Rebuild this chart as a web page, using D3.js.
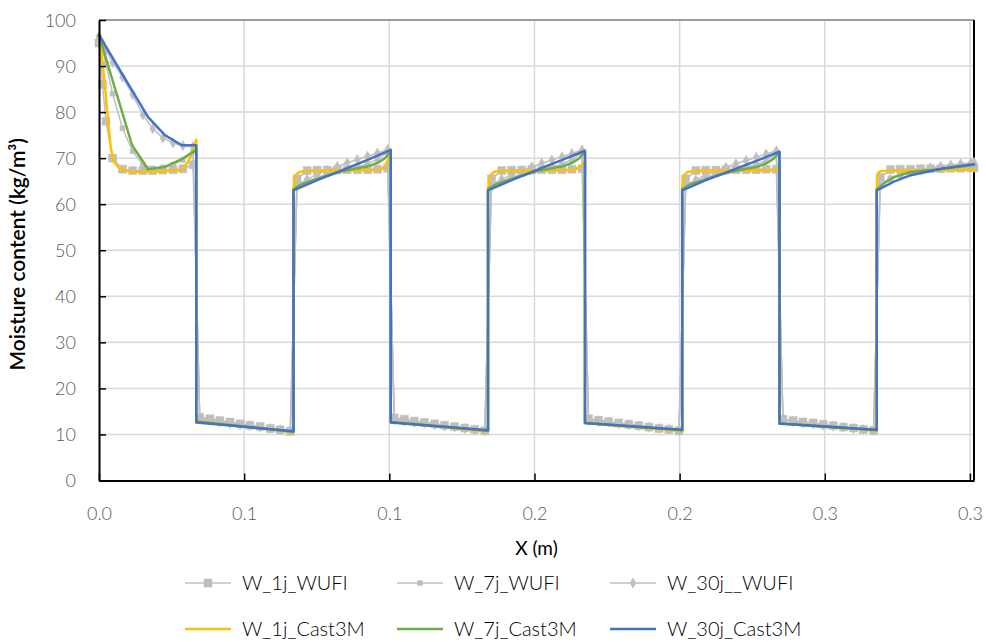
<!DOCTYPE html>
<html>
<head>
<meta charset="utf-8">
<script src="https://cdn.jsdelivr.net/npm/d3@7"></script>
<style>
  body { margin: 0; background: #fff; }
  svg { display: block; }
  text { font-family: Lato, "Open Sans", sans-serif; }
</style>
</head>
<body>
<svg id="chart" width="986" height="642"></svg>
<script>
// ---- axis ticks ----
const xTicks = [0, 0.05, 0.1, 0.15, 0.2, 0.25, 0.3];
const xTickLabels = ["0.0", "0.1", "0.1", "0.2", "0.2", "0.3", "0.3"];
const yTicks = [0, 10, 20, 30, 40, 50, 60, 70, 80, 90, 100];
const xMax = 0.3014;

// ---- WUFI results (shared mesh nodes, m) ----
const xWufi = [
  0, 0.0012, 0.0024, 0.0047, 0.0081, 0.0116, 0.0151, 0.0185, 0.0220, 0.0255, 0.0289, 0.0324,
  0.0347, 0.0382, 0.0416, 0.0451, 0.0486, 0.0520, 0.0555, 0.0590, 0.0624, 0.0659,
  0.0682, 0.0717, 0.0751, 0.0786, 0.0821, 0.0855, 0.0890, 0.0925, 0.0959, 0.0994,
  0.1017, 0.1052, 0.1086, 0.1121, 0.1156, 0.1190, 0.1225, 0.1260, 0.1294, 0.1329,
  0.1352, 0.1387, 0.1421, 0.1456, 0.1491, 0.1525, 0.1560, 0.1595, 0.1629, 0.1664,
  0.1686, 0.1721, 0.1755, 0.1790, 0.1825, 0.1859, 0.1894, 0.1929, 0.1963, 0.1998,
  0.2021, 0.2056, 0.2090, 0.2125, 0.2160, 0.2194, 0.2229, 0.2264, 0.2298, 0.2333,
  0.2356, 0.2391, 0.2425, 0.2460, 0.2495, 0.2529, 0.2564, 0.2599, 0.2633, 0.2668,
  0.2691, 0.2726, 0.2760, 0.2795, 0.2830, 0.2864, 0.2899, 0.2934, 0.2968, 0.3003, 0.3014
];
const w1jWufi = [
  95, 86, 78, 70, 67.6, 67.3, 67.3, 67.3, 67.4, 67.5, 67.7, 68.6,
  13.7, 13.4, 13.0, 12.7, 12.3, 12.0, 11.7, 11.3, 11.0, 10.7,
  65.5, 67.3, 67.4, 67.4, 67.5, 67.5, 67.5, 67.5, 67.6, 67.8,
  13.6, 13.3, 12.9, 12.6, 12.3, 12.0, 11.7, 11.4, 11.1, 10.8,
  65.5, 67.3, 67.4, 67.4, 67.5, 67.5, 67.5, 67.5, 67.6, 67.7,
  13.4, 13.1, 12.8, 12.5, 12.2, 11.9, 11.6, 11.3, 11.1, 10.8,
  65.5, 67.3, 67.4, 67.4, 67.5, 67.5, 67.5, 67.5, 67.6, 67.6,
  13.3, 13.0, 12.7, 12.5, 12.2, 11.9, 11.6, 11.4, 11.1, 10.9,
  65.8, 67.5, 67.6, 67.6, 67.7, 67.7, 67.7, 67.8, 67.8, 67.9, 67.9
];
const w7jWufi = [
  96, 93.5, 90.5, 84, 76.5, 71.5, 68.6, 67.8, 68.0, 68.6, 69.6, 71.4,
  13.5, 13.2, 12.9, 12.6, 12.3, 12.0, 11.7, 11.4, 11.1, 10.8,
  64.0, 65.0, 65.8, 66.5, 67.1, 67.6, 68.1, 68.8, 69.8, 71.3,
  13.4, 13.1, 12.8, 12.5, 12.2, 11.9, 11.6, 11.3, 11.0, 10.8,
  64.0, 65.0, 65.8, 66.5, 67.1, 67.6, 68.1, 68.7, 69.7, 71.2,
  13.3, 13.0, 12.7, 12.4, 12.1, 11.9, 11.6, 11.3, 11.1, 10.9,
  64.0, 65.0, 65.8, 66.5, 67.1, 67.5, 68.0, 68.6, 69.5, 71.0,
  13.2, 12.9, 12.7, 12.4, 12.1, 11.9, 11.6, 11.4, 11.1, 10.9,
  64.2, 65.6, 66.4, 66.9, 67.3, 67.6, 67.8, 68.0, 68.2, 68.4, 68.5
];
const w30jWufi = [
  96.5, 95, 93.5, 90.8, 87.6, 83.8, 79.4, 76.4, 74.4, 73.3, 72.7, 72.5,
  13.3, 13.0, 12.7, 12.4, 12.1, 11.9, 11.6, 11.3, 11.0, 10.8,
  64.2, 65.4, 66.5, 67.4, 68.2, 69.0, 69.7, 70.4, 71.1, 71.9,
  13.2, 12.9, 12.6, 12.4, 12.1, 11.8, 11.6, 11.3, 11.0, 10.8,
  64.2, 65.4, 66.4, 67.3, 68.1, 68.9, 69.6, 70.3, 71.0, 71.8,
  13.1, 12.8, 12.6, 12.3, 12.1, 11.8, 11.6, 11.3, 11.1, 10.9,
  64.1, 65.3, 66.3, 67.2, 68.0, 68.8, 69.5, 70.2, 70.9, 71.6,
  13.0, 12.8, 12.5, 12.3, 12.0, 11.8, 11.6, 11.3, 11.1, 10.9,
  64.0, 65.4, 66.3, 67.0, 67.5, 67.9, 68.2, 68.5, 68.8, 69.0, 69.1
];

// ---- Cast3M results ([x (m), w (kg/m3)]) ----
const w1jCast = [
  [0, 96.5], [0.001, 92], [0.002, 86], [0.003, 79], [0.004, 72.5], [0.005, 69.3], [0.007, 67.8],
  [0.0114, 67.0], [0.020, 67.1], [0.0285, 67.4], [0.0305, 69.0], [0.032, 71.0], [0.0335, 74.0],
  [0.0335, 12.9], [0.0670, 10.5],
  [0.0670, 63.5], [0.0675, 65.6], [0.0680, 66.5], [0.0690, 67.0], [0.0710, 67.2], [0.0850, 67.3],
  [0.0970, 67.5], [0.0985, 68.3], [0.0995, 69.5], [0.1005, 71.0],
  [0.1005, 12.7], [0.1340, 10.6],
  [0.1340, 63.3], [0.1345, 65.5], [0.1350, 66.4], [0.1360, 67.0], [0.1380, 67.2], [0.1600, 67.3],
  [0.1640, 67.5], [0.1655, 68.1], [0.1665, 68.7], [0.1674, 69.2],
  [0.1674, 12.5], [0.2009, 10.7],
  [0.2009, 63.5], [0.2012, 65.3], [0.2017, 66.4], [0.2027, 67.0], [0.2050, 67.2], [0.2300, 67.3],
  [0.2335, 67.5], [0.2344, 67.8],
  [0.2344, 12.4], [0.2679, 10.8],
  [0.2679, 63.5], [0.2681, 66.0], [0.2685, 66.9], [0.2695, 67.2], [0.2800, 67.3], [0.3014, 67.5]
];
const w7jCast = [
  [0, 96.7], [0.0114, 72.8], [0.0169, 67.6], [0.0227, 68.1], [0.0285, 69.8], [0.0335, 71.8],
  [0.0335, 12.8], [0.0670, 10.6],
  [0.0670, 63.3], [0.0700, 64.4], [0.0744, 65.3], [0.0791, 66.3], [0.0834, 67.1], [0.0881, 67.7],
  [0.0925, 68.2], [0.0961, 69.0], [0.0985, 70.0], [0.1005, 71.6],
  [0.1005, 12.7], [0.1340, 10.8],
  [0.1340, 63.3], [0.1370, 64.4], [0.1414, 65.3], [0.1461, 66.3], [0.1504, 67.1], [0.1551, 67.7],
  [0.1595, 68.2], [0.1631, 69.0], [0.1655, 70.0], [0.1674, 71.5],
  [0.1674, 12.5], [0.2009, 10.9],
  [0.2009, 63.3], [0.2039, 64.4], [0.2083, 65.2], [0.2130, 66.2], [0.2173, 67.0], [0.2220, 67.6],
  [0.2264, 68.1], [0.2300, 68.9], [0.2324, 69.9], [0.2344, 71.2],
  [0.2344, 12.4], [0.2679, 10.9],
  [0.2679, 63.2], [0.2709, 64.8], [0.2739, 65.9], [0.2796, 67.0], [0.2910, 67.7], [0.3014, 68.5]
];
const w30jCast = [
  [0, 96.7], [0.0169, 78.9], [0.0227, 75.0], [0.0285, 72.8], [0.0335, 72.8],
  [0.0335, 12.6], [0.0670, 10.7],
  [0.0670, 63.0], [0.0754, 65.3], [0.0838, 67.4], [0.0921, 69.5], [0.1005, 71.8],
  [0.1005, 12.6], [0.1340, 10.9],
  [0.1340, 63.0], [0.1424, 65.3], [0.1507, 67.4], [0.1591, 69.5], [0.1674, 71.6],
  [0.1674, 12.5], [0.2009, 11.0],
  [0.2009, 63.0], [0.2093, 65.3], [0.2177, 67.3], [0.2260, 69.3], [0.2344, 71.4],
  [0.2344, 12.4], [0.2679, 11.0],
  [0.2679, 63.0], [0.2738, 64.9], [0.2796, 66.3], [0.2910, 67.8], [0.3014, 68.7]
];

const seriesNames = ["W_1j_WUFI", "W_7j_WUFI", "W_30j__WUFI", "W_1j_Cast3M", "W_7j_Cast3M", "W_30j_Cast3M"];

// ---- layout ----
const svg = d3.select("#chart");
const plot = { left: 99, right: 974, top: 20, bottom: 480.5 };
const x = d3.scaleLinear().domain([0, xMax]).range([plot.left, plot.right]);
const y = d3.scaleLinear().domain([0, 100]).range([plot.bottom, plot.top]);

const grey = "#bfbfbf";
const gridColor = "#d9d9d9";
const castColors = ["#ffc000", "#70ad47", "#4472c4"];

svg.append("rect").attr("width", 986).attr("height", 642).attr("fill", "#fff");

// gridlines
const grid = svg.append("g");
grid.selectAll("line.h").data(yTicks.filter(d => d > 0)).join("line")
  .attr("x1", plot.left).attr("x2", plot.right)
  .attr("y1", d => y(d)).attr("y2", d => y(d))
  .attr("stroke", gridColor).attr("stroke-width", 1.5);
grid.selectAll("line.v").data(xTicks.filter(d => d > 0)).join("line")
  .attr("x1", d => x(d)).attr("x2", d => x(d))
  .attr("y1", plot.top).attr("y2", plot.bottom)
  .attr("stroke", gridColor).attr("stroke-width", 1.5);

// plot frame (top and right)
svg.append("line").attr("x1", plot.left).attr("x2", plot.right)
  .attr("y1", plot.top).attr("y2", plot.top).attr("stroke", "#595959").attr("stroke-width", 1);
svg.append("line").attr("x1", plot.right).attr("x2", plot.right)
  .attr("y1", plot.top).attr("y2", plot.bottom).attr("stroke", "#000").attr("stroke-width", 2);

// ---- series ----
const line = d3.line().x(d => x(d[0])).y(d => y(d[1]));
const wufiSets = [w1jWufi, w7jWufi, w30jWufi].map(vals => xWufi.map((xv, i) => [xv, vals[i]]));
const markerShapes = [
  d3.symbol().type(d3.symbolSquare).size(64),
  d3.symbol().type(d3.symbolSquare).size(25),
  d3.symbol().type(d3.symbolDiamond).size(30)
];

wufiSets.forEach((pts, k) => {
  const g = svg.append("g");
  g.append("path").attr("d", line(pts)).attr("fill", "none")
    .attr("stroke", grey).attr("stroke-width", 1.5).attr("stroke-linejoin", "round");
  g.selectAll("path.m").data(pts).join("path").attr("class", "m")
    .attr("d", markerShapes[k])
    .attr("transform", d => `translate(${x(d[0])},${y(d[1])})`)
    .attr("fill", grey).attr("stroke", grey).attr("stroke-width", 0.5);
});

[w1jCast, w7jCast, w30jCast].forEach((pts, k) => {
  svg.append("path").attr("d", line(pts)).attr("fill", "none")
    .attr("stroke", castColors[k]).attr("stroke-width", 2.5)
    .attr("stroke-linejoin", "round").attr("stroke-linecap", "round");
});

// ---- axes ----
const xAxis = svg.append("g").attr("transform", `translate(0,${plot.bottom})`)
  .call(d3.axisBottom(x).tickValues(xTicks).tickFormat((d, i) => xTickLabels[i])
    .tickSizeInner(-7).tickSizeOuter(0).tickPadding(27));
const yAxis = svg.append("g").attr("transform", `translate(${plot.left},0)`)
  .call(d3.axisLeft(y).tickValues(yTicks).tickFormat(d3.format("d"))
    .tickSizeInner(-7).tickSizeOuter(0).tickPadding(23));
[xAxis, yAxis].forEach(a => {
  a.select(".domain").attr("stroke", "#000").attr("stroke-width", 2);
  a.selectAll(".tick line").attr("stroke", "#000").attr("stroke-width", 1.5);
  a.selectAll(".tick text").attr("fill", "#595959").style("font-size", "18px")
    .style("font-family", "Lato, sans-serif").style("font-weight", "300");
});
yAxis.selectAll(".tick text").attr("dy", "0.35em");

// axis titles
svg.append("text").attr("x", (plot.left + plot.right) / 2).attr("y", 555)
  .attr("text-anchor", "middle").attr("fill", "#000").style("font-size", "19px").text("X (m)");
svg.append("text").attr("transform", `translate(25,${(plot.top + plot.bottom) / 2 + 4}) rotate(-90)`)
  .attr("text-anchor", "middle").attr("fill", "#000").style("font-size", "21px")
  .style("font-weight", "600")
  .text("Moisture content (kg/m³)");

// ---- legend ----
const legend = svg.append("g");
const legX = [185, 397, 610];
const legY = [583, 629];
seriesNames.forEach((name, i) => {
  const col = i % 3, row = Math.floor(i / 3);
  const g = legend.append("g").attr("transform", `translate(${legX[col]},${legY[row]})`);
  if (row === 0) {
    g.append("line").attr("x1", 0).attr("x2", 46).attr("y1", 0).attr("y2", 0)
      .attr("stroke", grey).attr("stroke-width", 1.5);
    g.append("path").attr("d", markerShapes[col]).attr("transform", "translate(23,0)")
      .attr("fill", grey).attr("stroke", grey).attr("stroke-width", 0.5);
  } else {
    g.append("line").attr("x1", 0).attr("x2", 46).attr("y1", 0).attr("y2", 0)
      .attr("stroke", castColors[col]).attr("stroke-width", 2.5);
  }
  g.append("text").attr("x", 57).attr("y", 0).attr("dy", "0.35em")
    .attr("fill", "#000").style("font-size", "20px").style("font-weight", "300").text(name);
});
</script>
</body>
</html>
